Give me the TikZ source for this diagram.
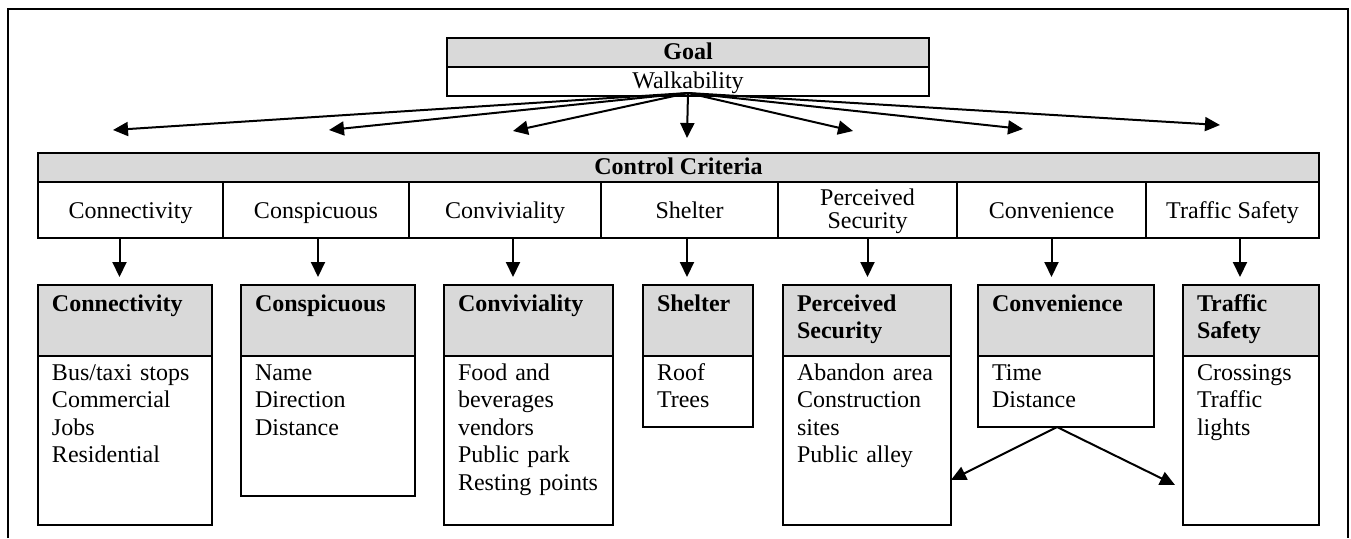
\documentclass[tikz,border=0pt]{standalone}
\usepackage{fontspec}
\setmainfont{Liberation Serif}
\usepackage{xcolor}
\usetikzlibrary{arrows.meta,positioning}
\definecolor{hdrgray}{RGB}{217,217,217}

\begin{document}
\fontsize{12pt}{13.8pt}\selectfont
\begin{tikzpicture}[
			     line width=1pt,
			     every node/.style={outer sep=0pt},
			     top bar/.style={draw, fill=hdrgray, font=\bfseries, inner sep=0pt, minimum height=14.5pt, text height=9pt, text depth=2.5pt, anchor=north west},
			     crit cell/.style={draw, inner sep=0pt, minimum height=28pt, text height=9pt, text depth=1pt, align=center, anchor=north west},
			     sub head/.style={draw, fill=hdrgray, font=\bfseries, align=left, inner xsep=7pt, inner ysep=0pt, text height=13pt, text depth=22.5pt, anchor=north west, text width=#1},
			     sub body/.style 2 args={draw, align=left, inner xsep=7pt, inner ysep=0pt, text height=12pt, text depth=#2, anchor=north west, text width=#1},
			     fan line/.style={-{Triangle[length=7.5pt,width=7pt]}}
			     ]
\useasboundingbox (0,0) rectangle (675.5pt,-269pt);
\draw (4pt,-269pt) -- (4pt,-4.5pt) -- (674pt,-4.5pt) -- (674pt,-269pt);
% goal
\node[top bar, minimum width=241pt] (goalh) at (223.5pt,-19pt) {Goal};
\node[draw, inner sep=0pt, minimum width=241pt, minimum height=14.5pt, text height=9pt, text depth=2.5pt, anchor=north west] (goal) at (goalh.south west) {Walkability};
% control criteria
\node[top bar, minimum width=640.5pt] (ctrl) at (19pt,-76.5pt) {Control Criteria};
\node[crit cell, minimum width=92.5pt] (c1) at (ctrl.south west) {Connectivity};
\node[crit cell, minimum width=93pt] (c2) at (c1.north east) {Conspicuous};
\node[crit cell, minimum width=96pt] (c3) at (c2.north east) {Conviviality};
\node[crit cell, minimum width=88.5pt] (c4) at (c3.north east) {Shelter};
\node[crit cell, minimum width=89.5pt, font=\fontsize{12pt}{11.5pt}\selectfont, text height=23pt, text depth=5pt] (c5) at (c4.north east) {Perceived\\Security};
\node[crit cell, minimum width=94.5pt] (c6) at (c5.north east) {Convenience};
\node[crit cell, minimum width=86.5pt] (c7) at (c6.north east) {Traffic Safety};
% sub criteria
\node[sub head=73pt] (h1) at (19pt,-142.5pt) {Connectivity};
\node[sub body={73pt}{72.5pt}] (b1) at (h1.south west) {Bus/taxi stops\\Commercial\\Jobs\\Residential};
\node[sub head=73pt] (h2) at (120.5pt,-142.5pt) {Conspicuous};
\node[sub body={73pt}{58pt}] (b2) at (h2.south west) {Name\\Direction\\Distance};
\node[sub head=70.5pt] (h3) at (222pt,-142.5pt) {Conviviality};
\node[sub body={70.5pt}{72.5pt}] (b3) at (h3.south west) {Food and\\beverages\\vendors\\Public park\\Resting points};
\node[sub head=41pt] (h4) at (321.5pt,-142.5pt) {Shelter};
\node[sub body={41pt}{23.5pt}] (b4) at (h4.south west) {Roof\\Trees};
\node[sub head=70pt] (h5) at (391.5pt,-142.5pt) {Perceived Security};
\node[sub body={70pt}{72.5pt}] (b5) at (h5.south west) {Abandon area\\Construction\\sites\\Public alley};
\node[sub head=74pt] (h6) at (489pt,-142.5pt) {Convenience};
\node[sub body={74pt}{23.5pt}] (b6) at (h6.south west) {Time\\Distance};
\node[sub head=54pt] (h7) at (591.5pt,-142.5pt) {Traffic Safety};
\node[sub body={54pt}{72.5pt}] (b7) at (h7.south west) {Crossings\\Traffic\\lights};
% arrows from the goal
\coordinate (fan) at ([yshift=1.5pt]goal.south);
\coordinate (t1) at (56.5pt,-65pt);
\coordinate (t2) at (164.5pt,-65pt);
\coordinate (t3) at (256.5pt,-65.5pt);
\coordinate (t4) at (343.5pt,-69pt);
\coordinate (t5) at (426.5pt,-65.5pt);
\coordinate (t6) at (511.5pt,-64.5pt);
\coordinate (t7) at (610pt,-62.5pt);
\path (fan) edge[fan line] (t1) edge[fan line] (t2) edge[fan line] (t3) edge[fan line] (t4)
            edge[fan line] (t5) edge[fan line] (t6) edge[fan line] (t7);
% arrows down
\draw[fan line] ([xshift=-5.5pt]c1.south) -- ++(0,-19.5pt);
\draw[fan line] ([xshift=1pt]c2.south) -- ++(0,-19.5pt);
\draw[fan line] ([xshift=4pt]c3.south) -- ++(0,-19.5pt);
\draw[fan line] ([xshift=-1.25pt]c4.south) -- ++(0,-19.5pt);
\draw[fan line] (c5.south) -- ++(0,-19.5pt);
\draw[fan line] (c6.south) -- ++(0,-19.5pt);
\draw[fan line] ([xshift=3.75pt]c7.south) -- ++(0,-19.5pt);
% convenience split
\coordinate (split) at ([xshift=-4.5pt]b6.south);
\path (split) edge[fan line] ([yshift=-19.75pt]b5.east) edge[fan line] ([xshift=-4pt,yshift=-22.25pt]b7.west);
\end{tikzpicture}
\end{document}
